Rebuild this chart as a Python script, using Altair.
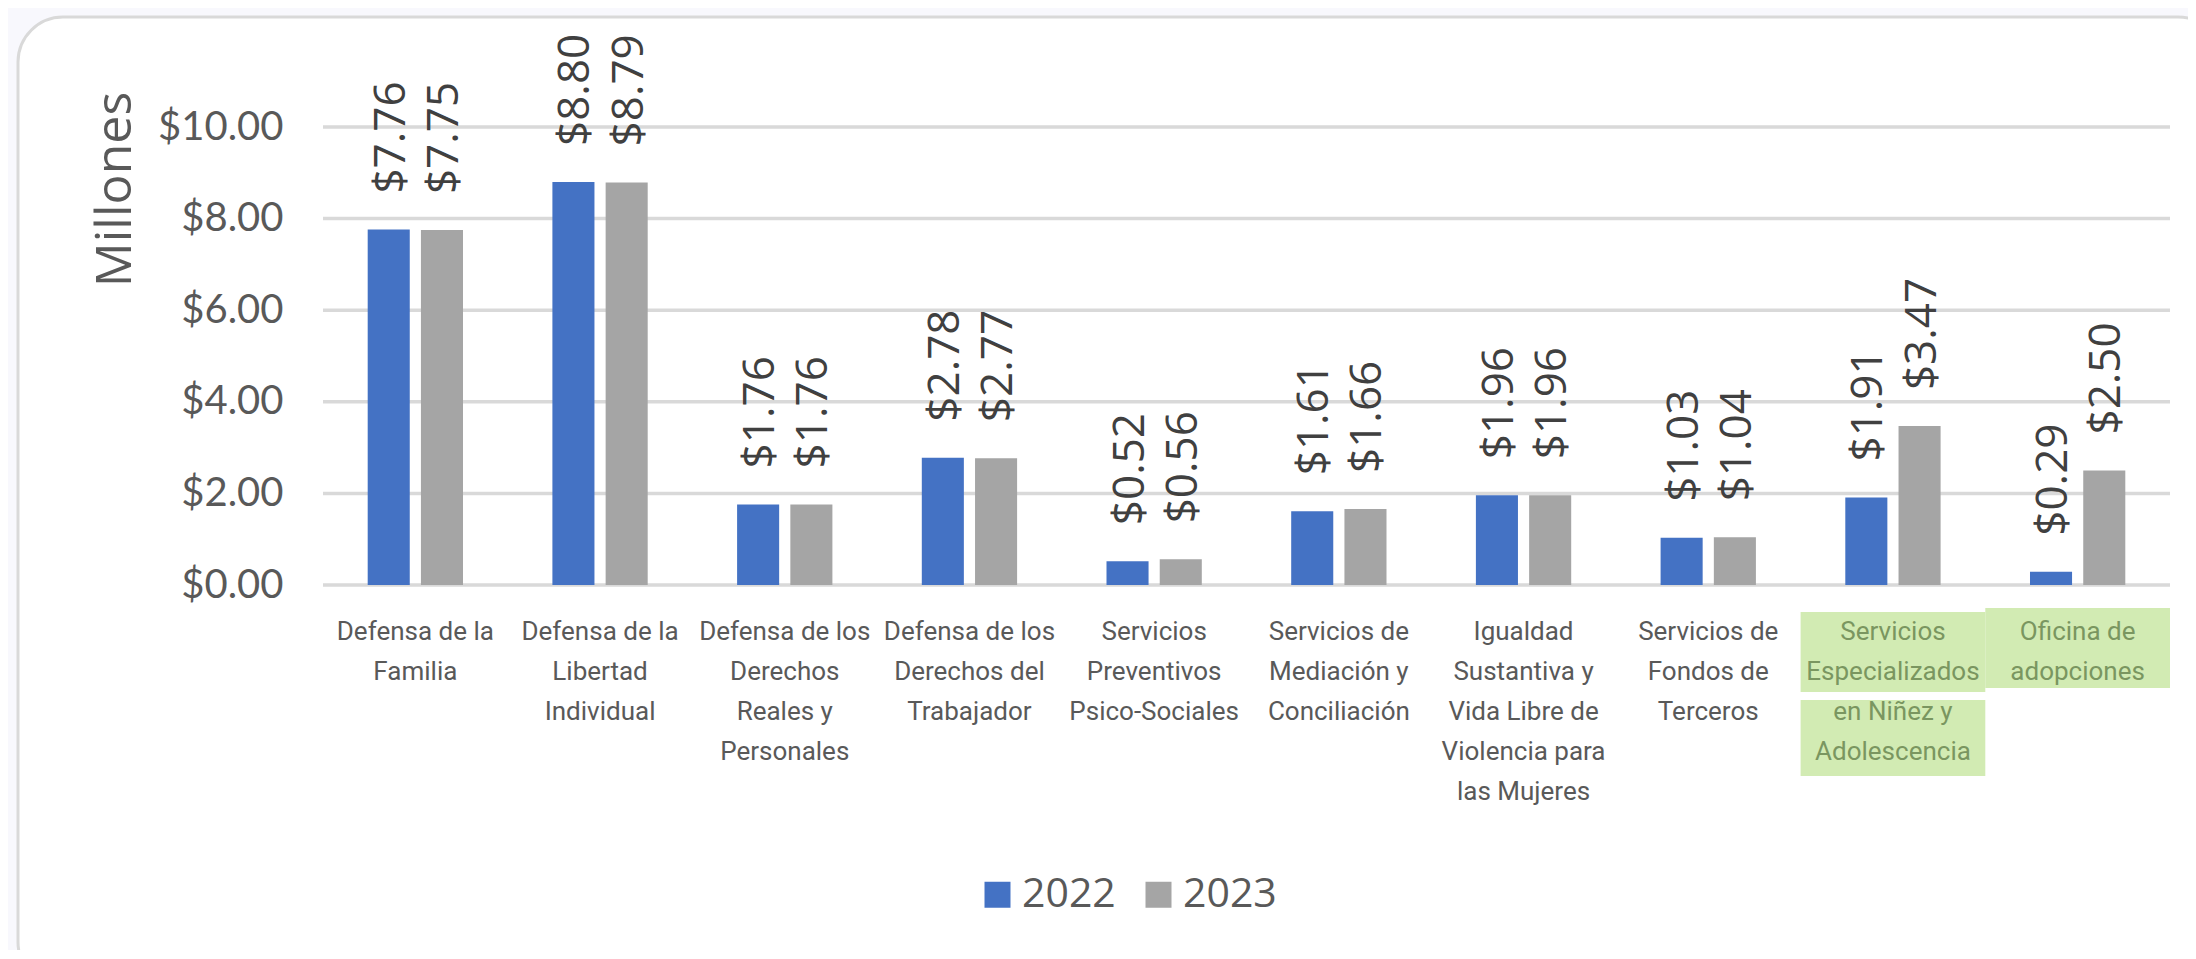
import altair as alt
import pandas as pd

# ---------------- data ----------------
categories = [
    "Defensa de la|Familia",
    "Defensa de la|Libertad|Individual",
    "Defensa de los|Derechos|Reales y|Personales",
    "Defensa de los|Derechos del|Trabajador",
    "Servicios|Preventivos|Psico-Sociales",
    "Servicios de|Mediación y|Conciliación",
    "Igualdad|Sustantiva y|Vida Libre de|Violencia para|las Mujeres",
    "Servicios de|Fondos de|Terceros",
    "Servicios|Especializados|en Niñez y|Adolescencia",
    "Oficina de|adopciones",
]
years = ["2022", "2023"]
values_2022 = [7.76, 8.80, 1.76, 2.78, 0.52, 1.61, 1.96, 1.03, 1.91, 0.29]
values_2023 = [7.75, 8.79, 1.76, 2.77, 0.56, 1.66, 1.96, 1.04, 3.47, 2.50]
y_ticks = [0, 2, 4, 6, 8, 10]
highlighted = [categories[8], categories[9]]

rows = []
for c, a, b in zip(categories, values_2022, values_2023):
    rows.append({"categoria": c, "anio": "2022", "valor": a})
    rows.append({"categoria": c, "anio": "2023", "valor": b})
df = pd.DataFrame(rows)
grid_df = pd.DataFrame({"valor": y_ticks})

# ---------------- style ----------------
BLUE = "#4472C4"
GREY = "#A5A5A5"
TXT = "#595959"
GRID = "#D9D9D9"
HL_FILL = "#D2EBB3"
HL_TXT = "#7A9660"
W, H = 1847, 458

x_scale = alt.Scale(domain=categories, paddingInner=0.484, paddingOuter=0.242)
x_axis = alt.Axis(
    title=None, labelAngle=0, labelExpr="split(datum.label, '|')",
    labelFont="Roboto", labelFontSize=26,
    labelLineHeight=40, labelPadding=33, labelLimit=400, labelOverlap=False,
    labelColor={"expr": "(indexof(datum.value, 'Especializados') >= 0 || indexof(datum.value, 'Oficina') >= 0) ? '%s' : '%s'" % (HL_TXT, TXT)},
    domain=False, ticks=False, grid=False, zindex=1,
)
y_scale = alt.Scale(domain=[0, 10], nice=False)
y_axis = alt.Axis(
    values=y_ticks, format="$.2f", grid=False, domain=False, ticks=False,
    labelFont="Lato", labelFontSize=40, labelColor=TXT, labelPadding=40,
    title="Millones", titleFont="Open Sans", titleFontSize=50,
    titleFontWeight="normal", titleColor=TXT, titleAngle=-90,
    titleAlign="center", titleBaseline="middle", titleX=-208, titleY=62,
    zindex=1,
)

card = alt.Chart(pd.DataFrame({"k": [0]})).mark_rect(
    fill="white", stroke=GRID, strokeWidth=3, cornerRadius=45
).encode(
    x=alt.value(-305), x2=alt.value(1900), y=alt.value(-110), y2=alt.value(860)
)

grid = alt.Chart(grid_df).mark_rule(color=GRID, strokeWidth=3.5).encode(
    y=alt.Y("valor:Q", scale=y_scale)
)

hl_scale = alt.Scale(domain=categories, paddingInner=0, paddingOuter=0)
hl_boxes = [
    (highlighted[0], 485, 565),
    (highlighted[0], 573, 649),
    (highlighted[1], 481, 561),
]
hl_layers = []
for cat, t, b in hl_boxes:
    hl_layers.append(
        alt.Chart(pd.DataFrame({"categoria": [cat]})).mark_rect(color=HL_FILL).encode(
            x=alt.X("categoria:N", scale=hl_scale, axis=None),
            y=alt.value(t), y2=alt.value(b),
        )
    )

base = alt.Chart(df).encode(
    x=alt.X("categoria:N", sort=categories, scale=x_scale, axis=x_axis),
    xOffset=alt.XOffset("anio:N", sort=years,
                        scale=alt.Scale(domain=years, paddingInner=0.21, paddingOuter=0)),
    y=alt.Y("valor:Q", scale=y_scale, axis=y_axis),
)

bars = base.mark_bar().encode(
    color=alt.Color(
        "anio:N", scale=alt.Scale(domain=years, range=[BLUE, GREY]),
        legend=alt.Legend(
            orient="none", legendX=654, legendY=747, direction="horizontal",
            title=None, symbolType="square", symbolSize=676, symbolStrokeWidth=0,
            labelFont="Open Sans", labelFontSize=41, labelColor=TXT,
            columnPadding=22, labelOffset=4,
        ),
    )
)

labels = base.mark_text(
    angle=270, align="left", baseline="middle", dx=36, dy=3,
    font="Open Sans", fontSize=44, color="#404040",
).encode(text=alt.Text("valor:Q", format="$.2f"))

main = alt.layer(bars, labels)

chart = alt.layer(card, grid, *hl_layers, main).resolve_scale(
    x="independent"
).properties(
    width=W, height=H,
    autosize=alt.AutoSizeParams(type="none"),
    padding={"left": 315, "top": 119, "right": 18, "bottom": 365},
    background="#F8F8FD",
).configure_view(stroke=None)

chart.save("out.html", embed_options={"renderer": "svg", "actions": False})
